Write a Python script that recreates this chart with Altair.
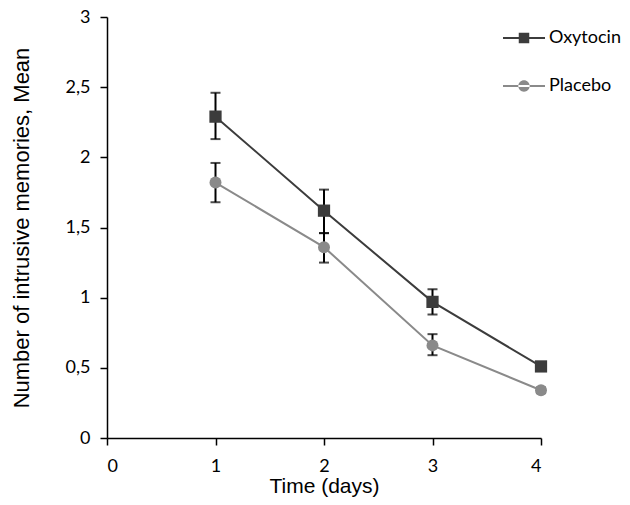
import altair as alt
import pandas as pd

days = [1, 2, 3, 4]
oxy_mean = [2.29, 1.62, 0.97, 0.51]
oxy_lo = [2.13, 1.46, 0.88, 0.48]
oxy_hi = [2.46, 1.77, 1.06, 0.54]
pla_mean = [1.82, 1.36, 0.66, 0.34]
pla_lo = [1.68, 1.25, 0.59, 0.32]
pla_hi = [1.96, 1.46, 0.74, 0.36]
series = ["Oxytocin", "Placebo"]
colors = ["#3c3c3c", "#8a8a8a"]

rows = []
for i, d in enumerate(days):
    rows.append({"day": d, "series": "Oxytocin", "mean": oxy_mean[i], "lo": oxy_lo[i], "hi": oxy_hi[i]})
for i, d in enumerate(days):
    rows.append({"day": d, "series": "Placebo", "mean": pla_mean[i], "lo": pla_lo[i], "hi": pla_hi[i]})
df = pd.DataFrame(rows)

SQ_PATH = "M-1,-0.05H1V0.05H-1Z M-0.25,-0.25H0.25V0.25H-0.25Z"
CI_PATH = "M-1,-0.05H1V0.05H-1Z M-0.27,0A0.27,0.27 0 1,0 0.27,0A0.27,0.27 0 1,0 -0.27,0Z"

YTITLE = "Number of intrusive memories, Mean"
xaxis = alt.Axis(values=[0, 1, 2, 3, 4], title="Time (days)", format="d",
                 labelPadding=12, titlePadding=0, titleFontSize=21)
yaxis = alt.Axis(values=[0, 0.5, 1, 1.5, 2, 2.5, 3], format="~g",
                 labelExpr="replace(datum.label, '.', ',')",
                 title=YTITLE, labelPadding=10, titlePadding=32, titleFontSize=22)
xs = alt.X("day:Q", scale=alt.Scale(domain=[0, 4], nice=False), axis=xaxis)
ys = alt.Y("mean:Q", scale=alt.Scale(domain=[0, 3], nice=False), axis=yaxis)

base = alt.Chart(df)
oxy = base.transform_filter(alt.datum.series == "Oxytocin")
pla = base.transform_filter(alt.datum.series == "Placebo")

line_o = oxy.mark_line(strokeWidth=2, color=colors[0]).encode(x=xs, y=ys)
line_p = pla.mark_line(strokeWidth=2, color=colors[1]).encode(x=xs, y=ys)

errs = base.mark_errorbar(ticks=True, size=10, thickness=2, color="black").encode(
    x=xs, y=alt.Y("lo:Q", scale=alt.Scale(domain=[0, 3], nice=False), axis=yaxis), y2="hi:Q")

pts_o = oxy.mark_point(filled=True, shape="square", size=150, opacity=1,
                       color=colors[0]).encode(x=xs, y=ys)
pts_p = pla.mark_point(filled=True, shape="circle", size=144, opacity=1,
                       color=colors[1]).encode(x=xs, y=ys)

leg = alt.Legend(title=None, orient="none", legendX=396, legendY=0,
                 symbolSize=1764, rowPadding=18, padding=0,
                 labelFont="Lato", labelFontSize=18, labelColor="black",
                 labelOffset=4, symbolStrokeWidth=0)

legend_layer = base.transform_filter("datum.day > 100").mark_point(
    filled=True, opacity=1).encode(
    x=xs, y=ys,
    shape=alt.Shape("series:N", scale=alt.Scale(domain=series, range=[SQ_PATH, CI_PATH]),
                    legend=leg),
    color=alt.Color("series:N", scale=alt.Scale(domain=series, range=colors), legend=leg),
)

chart = alt.layer(line_o, line_p, errs, pts_o, pts_p, legend_layer).properties(
    width=434, height=421,
    autosize=alt.AutoSizeParams(type="none"),
    padding={"left": 99, "top": 9, "right": 81, "bottom": 59},
).configure_view(stroke=None).configure_axis(
    grid=False, domainColor="black", domainWidth=1.5, tickColor="black", tickWidth=1.5,
    tickSize=7, labelFont="Lato", labelFontSize=18, labelColor="black",
    titleFont="Liberation Sans", titleFontWeight="normal", titleColor="black",
)

chart.save("out.html", embed_options={"renderer": "svg", "actions": False})
